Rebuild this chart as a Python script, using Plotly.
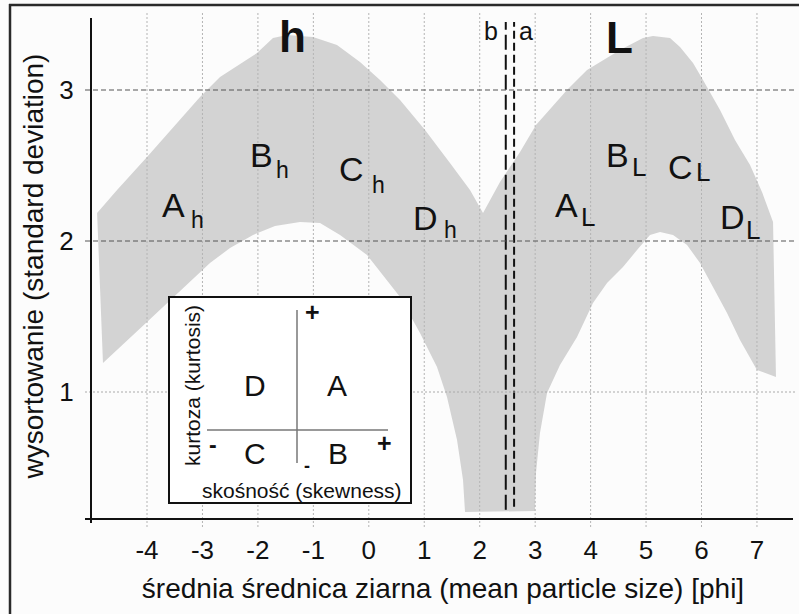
import plotly.graph_objects as go

FONT = "Liberation Sans, Arial, Helvetica, sans-serif"

# ---------------- data ----------------
x_tick_vals = [-4, -3, -2, -1, 0, 1, 2, 3, 4, 5, 6, 7]
x_tick_text = ["-4", "-3", "-2", "-1", "0", "1", "2", "3", "4", "5", "6", "7"]
y_tick_vals = [1, 2, 3]
y_tick_text = ["1", "2", "3"]
y_dashed_grid = [2, 3]
y_dotted_grid = [1]

# upper (outer) edge of the grey field, left -> right
upper_x = [-4.90, -4.54, -4.00, -3.405, -3.044, -2.683, -2.016, -1.728, -1.475, -1.006,
           -0.574, -0.159, 0.202, 0.563, 1.014, 1.464, 1.825, 2.06, 2.366, 2.727,
           3.015, 3.574, 3.935, 4.53, 4.945, 5.125, 5.432, 5.612, 5.847, 6.027,
           6.334, 6.604, 6.875, 7.091, 7.29]
upper_y = [2.185, 2.338, 2.556, 2.801, 2.954, 3.086, 3.245, 3.344, 3.364, 3.351,
           3.298, 3.185, 3.066, 2.934, 2.735, 2.517, 2.338, 2.185, 2.391, 2.589,
           2.768, 3.000, 3.132, 3.265, 3.344, 3.358, 3.344, 3.285, 3.179, 3.066,
           2.868, 2.669, 2.503, 2.325, 2.126]
# lower (inner) edge of the grey field, left -> right
lower_x = [-4.794, -4.0, -3.585, -3.225, -2.864, -2.503, -2.088, -1.692, -1.241, -0.88,
           -0.519, -0.032, 0.202, 0.563, 0.923, 1.23, 1.41, 1.591, 1.699, 1.735,
           2.997, 3.015, 3.087, 3.214, 3.448, 3.755, 4.043, 4.296, 4.584, 4.837,
           5.071, 5.252, 5.486, 5.739, 5.973, 6.207, 6.46, 6.694, 7.0, 7.343]
lower_y = [1.192, 1.464, 1.609, 1.728, 1.854, 1.954, 2.040, 2.099, 2.126, 2.119,
           2.040, 1.907, 1.795, 1.629, 1.391, 1.166, 0.967, 0.682, 0.417, 0.205,
           0.212, 0.464, 0.728, 0.993, 1.179, 1.364, 1.589, 1.722, 1.828, 1.940,
           2.040, 2.060, 2.040, 1.974, 1.854, 1.695, 1.523, 1.344, 1.146, 1.099]

# boundary lines a and b
line_names = ["b", "a"]
line_x = [2.47, 2.62]
line_y0 = [0.22, 0.24]
line_y1 = [3.45, 3.45]
line_dash = ["15px,5px", "8px,4px"]
line_label_x = [2.204, 2.826]
line_label_y = [3.39, 3.39]

# field labels
group_text = ["h", "L"]
group_x = [-1.385, 4.512]
group_y = [3.354, 3.351]

main_text = ["A", "B", "C", "D", "A", "B", "C", "D"]
main_x = [-3.522, -1.944, -0.312, 1.031, 3.565, 4.485, 5.612, 6.559]
main_y = [2.238, 2.570, 2.474, 2.152, 2.238, 2.570, 2.487, 2.156]
sub_text = ["h", "h", "h", "h", "L", "L", "L", "L"]
sub_x = [-3.098, -1.565, 0.166, 1.473, 3.953, 4.873, 6.027, 6.929]
sub_y = [2.142, 2.467, 2.368, 2.076, 2.156, 2.490, 2.454, 2.070]
sub_size = [23, 23, 23, 23, 26, 26, 26, 26]

x_title = "średnia średnica ziarna (mean particle size) [phi]"
y_title = "wysortowanie (standard deviation)"

# ---------------- layout geometry ----------------
W, H = 799, 614
PL, PR, PT, PB = 91, 795, 13, 519
X_RANGE = [-5.010, 7.686]
Y_RANGE = [0.159, 3.510]


def pxx(p):
    return (p - PL) / (PR - PL)


def pxy(p):
    return (PB - p) / (PB - PT)


fig = go.Figure()

poly_x = upper_x + lower_x[::-1] + [upper_x[0]]
poly_y = upper_y + lower_y[::-1] + [upper_y[0]]
fig.add_trace(go.Scatter(x=poly_x, y=poly_y, mode="lines", fill="toself",
                         fillcolor="#d3d3d3", line=dict(width=0, color="#d3d3d3"),
                         hoverinfo="skip", showlegend=False))

for i in range(len(line_names)):
    fig.add_trace(go.Scatter(x=[line_x[i], line_x[i]], y=[line_y0[i], line_y1[i]],
                             mode="lines", name=line_names[i],
                             line=dict(color="#111", width=2, dash=line_dash[i]),
                             hoverinfo="skip", showlegend=False))

shapes = []
# vertical dotted grid lines
for v in x_tick_vals:
    shapes.append(dict(type="line", xref="x", yref="paper", x0=v, x1=v,
                       y0=pxy(527), y1=pxy(13), layer="above",
                       line=dict(color="#b4b4b4", width=1, dash="2px,2px")))
for v in y_dashed_grid:
    shapes.append(dict(type="line", xref="paper", yref="y", x0=pxx(85), x1=1, y0=v, y1=v,
                       layer="above", line=dict(color="#555", width=1, dash="5px,3px")))
for v in y_dotted_grid:
    shapes.append(dict(type="line", xref="paper", yref="y", x0=pxx(85), x1=1, y0=v, y1=v,
                       layer="above", line=dict(color="#aaa", width=1, dash="2px,2px")))
# axis lines
shapes.append(dict(type="line", xref="paper", yref="paper", x0=pxx(85), x1=pxx(793),
                   y0=pxy(519), y1=pxy(519), layer="above", line=dict(color="#111", width=2)))
shapes.append(dict(type="line", xref="paper", yref="paper", x0=pxx(91), x1=pxx(91),
                   y0=pxy(523), y1=pxy(18), layer="above", line=dict(color="#111", width=2)))
# inset box
shapes.append(dict(type="rect", xref="paper", yref="paper", x0=pxx(169), x1=pxx(411),
                   y0=pxy(503), y1=pxy(297), layer="above", fillcolor="white",
                   line=dict(color="#111", width=2)))
shapes.append(dict(type="line", xref="paper", yref="paper", x0=pxx(297), x1=pxx(297),
                   y0=pxy(463), y1=pxy(310), layer="above", line=dict(color="#777", width=1.5)))
shapes.append(dict(type="line", xref="paper", yref="paper", x0=pxx(207), x1=pxx(388),
                   y0=pxy(430), y1=pxy(430), layer="above", line=dict(color="#777", width=1.5)))
# picture frame (top and left)
shapes.append(dict(type="line", xref="paper", yref="paper", x0=pxx(9), x1=pxx(805),
                   y0=pxy(5), y1=pxy(5), layer="above", line=dict(color="#2a2a2a", width=2.5)))
shapes.append(dict(type="line", xref="paper", yref="paper", x0=pxx(10), x1=pxx(10),
                   y0=pxy(620), y1=pxy(4), layer="above", line=dict(color="#2a2a2a", width=2.5)))

annotations = []


def ann(text, x, y, size, xref="x", yref="y", angle=0, color="#111"):
    annotations.append(dict(text=text, x=x, y=y, xref=xref, yref=yref, showarrow=False,
                            xanchor="center", yanchor="middle", textangle=angle,
                            font=dict(family=FONT, size=size, color=color)))


for t, x, y in zip(group_text, group_x, group_y):
    ann("<b>" + t + "</b>", x, y, 44)
for t, x, y in zip(main_text, main_x, main_y):
    ann(t, x, y, 34)
for t, x, y, s in zip(sub_text, sub_x, sub_y, sub_size):
    ann(t, x, y, s)
for t, x, y in zip(line_names, line_label_x, line_label_y):
    ann(t, x, y, 25)

# inset diagram text
ann("D", pxx(255), pxy(385), 30, "paper", "paper")
ann("A", pxx(337), pxy(385), 30, "paper", "paper")
ann("C", pxx(255), pxy(453), 30, "paper", "paper")
ann("B", pxx(338), pxy(453), 30, "paper", "paper")
ann("<b>+</b>", pxx(312), pxy(312), 25, "paper", "paper")
ann("<b>+</b>", pxx(384), pxy(443), 25, "paper", "paper")
ann("<b>-</b>", pxx(213), pxy(445), 23, "paper", "paper")
ann("<b>-</b>", pxx(307), pxy(466), 18, "paper", "paper")
ann("kurtoza (kurtosis)", pxx(192), pxy(386), 21, "paper", "paper", angle=-90)
ann("skośność (skewness)", pxx(302), pxy(490), 21, "paper", "paper")

fig.update_layout(
    width=W, height=H,
    margin=dict(l=PL, r=W - PR, t=PT, b=H - PB, pad=0),
    paper_bgcolor="#fcfcfc", plot_bgcolor="#fcfcfc",
    font=dict(family=FONT, color="#111"),
    showlegend=False,
    shapes=shapes, annotations=annotations,
    xaxis=dict(range=X_RANGE, tickvals=x_tick_vals, ticktext=x_tick_text,
               showgrid=False, zeroline=False,
               showline=False, ticks="outside", ticklen=8, tickcolor="rgba(0,0,0,0)",
               tickfont=dict(size=26, color="#111"), ticklabelstandoff=0,
               title=dict(text=x_title, font=dict(size=28, color="#111"), standoff=14),
               automargin=False, fixedrange=True),
    yaxis=dict(range=Y_RANGE, tickvals=y_tick_vals, ticktext=y_tick_text,
               showgrid=False, zeroline=False,
               showline=False, ticks="outside", ticklen=6, tickcolor="rgba(0,0,0,0)",
               tickfont=dict(size=26, color="#111"), ticklabelstandoff=5,
               title=dict(text=y_title, font=dict(size=28, color="#111"), standoff=7),
               automargin=False, fixedrange=True),
)

fig.write_html("out.html")
